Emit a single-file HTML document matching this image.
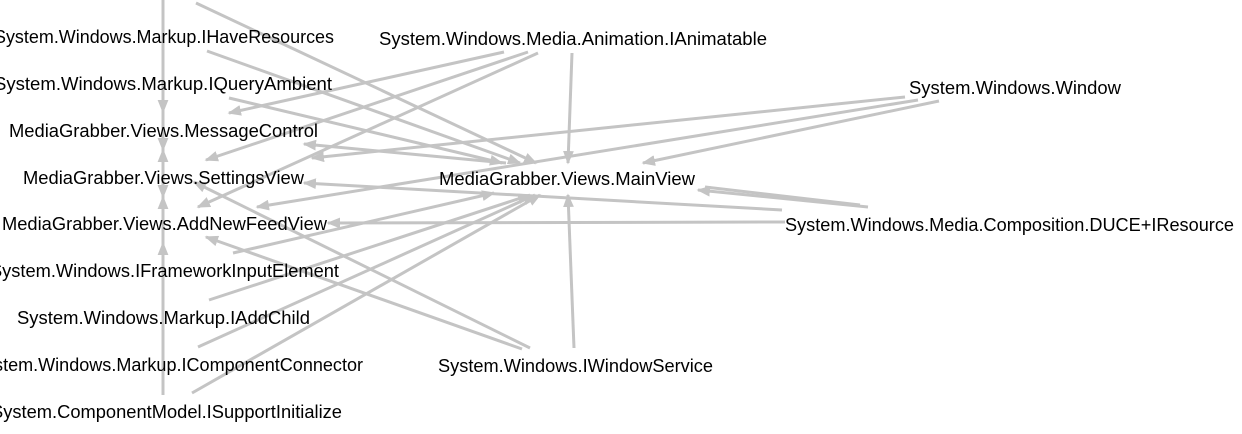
<!DOCTYPE html>
<html><head><meta charset="utf-8"><style>
html,body{margin:0;padding:0;background:#fff;overflow:hidden}
svg{display:block}
text{font-family:"Liberation Sans",sans-serif;font-size:18px;fill:#000}
</style></head><body>
<svg id="g" width="1242" height="434" viewBox="0 0 1242 434">
<defs><marker id="ah" markerWidth="4.5" markerHeight="3.6" refX="4" refY="1.8" orient="auto" markerUnits="strokeWidth"><path d="M0,0L4.5,1.8L0,3.6z" fill="#c4c4c4"/></marker></defs>
<g id="edges"></g><g id="nodes"></g>
</svg>
<script>
const nodeLabels=["System.Windows.Markup.IHaveResources","System.Windows.Markup.IQueryAmbient","MediaGrabber.Views.MessageControl","MediaGrabber.Views.SettingsView","MediaGrabber.Views.AddNewFeedView","System.Windows.IFrameworkInputElement","System.Windows.Markup.IAddChild","System.Windows.Markup.IComponentConnector","System.ComponentModel.ISupportInitialize","System.Windows.Media.Animation.IAnimatable","System.Windows.Window","MediaGrabber.Views.MainView","System.Windows.Media.Composition.DUCE+IResource","System.Windows.IWindowService"];
const nodeLeft=[-6,-6,9,23,2,-10,17,-27,-9,379,909,439,785,438];
const nodeRight=[334,332,318,304,327,339,310,363,342,767,1121,695,1234,713];
const nodeY=[37,84,131,178,224,271,318,365,412,39,88,179,225,366];
const edgeFrom=[[196,3],[207,51],[229,98],[504,52],[528,52],[538,53],[572,53],[506,163],[905,97],[918,100],[939,101],[868,207],[782,210],[785,222],[530,348],[522,349],[574,348],[233,253],[209,300],[198,347],[192,393]];
const edgeTo=[[536,163],[520,163],[502,163],[229,113],[206,160],[198,207],[568,163],[304,144],[312,158],[257,207],[643,163],[698,190],[304,183],[328,223],[194,182],[206,237],[568,195],[494,193],[530,195],[535,195],[540,195]];
const NS="http://www.w3.org/2000/svg";
const eg=document.getElementById('edges'),ng=document.getElementById('nodes');
function ln(x1,y1,x2,y2,arrow){const l=document.createElementNS(NS,'line');
l.setAttribute('x1',x1);l.setAttribute('y1',y1);l.setAttribute('x2',x2);l.setAttribute('y2',y2);
l.setAttribute('stroke','#c4c4c4');l.setAttribute('stroke-width','3');
if(arrow)l.setAttribute('marker-end','url(#ah)');


eg.appendChild(l);}
ln(163,0,163,395,false);
ln(163,90,163,112,true);ln(163,135,163,150,true);ln(163,165,163,150,true);ln(163,182,163,197,true);ln(163,212,163,197,true);ln(163,265,163,243,true);
edgeFrom.forEach((f,i)=>{ln(f[0],f[1],edgeTo[i][0],edgeTo[i][1],true);});
ln(860,205,705,187,false);
nodeLabels.forEach((s,i)=>{const t=document.createElementNS(NS,'text');
t.setAttribute('x',nodeLeft[i]);t.setAttribute('y',nodeY[i]+6);
t.setAttribute('textLength',nodeRight[i]-nodeLeft[i]);t.setAttribute('lengthAdjust','spacingAndGlyphs');
t.textContent=s;


ng.appendChild(t);});
</script>
</body></html>
